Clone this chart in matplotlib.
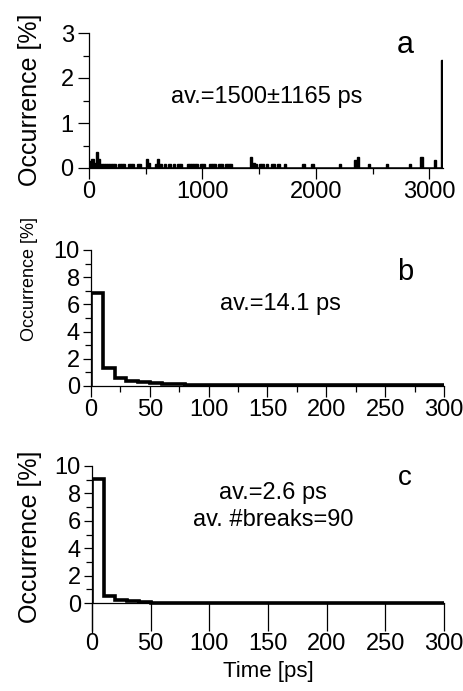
import matplotlib
matplotlib.use("Agg")
import matplotlib.pyplot as plt
from matplotlib.ticker import MultipleLocator
import numpy as np

plt.rcParams.update({"font.family": ["Liberation Sans", "DejaVu Sans"],
                     "axes.linewidth": 0.9, "xtick.major.width": 0.9,
                     "ytick.major.width": 0.9, "xtick.minor.width": 0.9,
                     "ytick.minor.width": 0.9})

# panel a: lifetimes, 20 ps bins (left edges of non-empty bins) -> occurrence [%]
A_BIN = 20
a_t = [0, 20, 40, 60, 80, 100, 120, 140, 160, 180,
       200, 220, 260, 280, 300, 340, 360, 380, 420, 440,
       500, 520, 580, 600, 620, 660, 700, 740, 780, 800,
       860, 880, 900, 920, 940, 980, 1000, 1060, 1080, 1100,
       1140, 1160, 1200, 1220, 1240, 1420, 1440, 1460, 1500, 1520,
       1560, 1600, 1620, 1660, 1720, 1880, 1960, 2200, 2340, 2360,
       2460, 2620, 2820, 2920, 3040, 3100]
a_occ = [0.15, 0.2, 0.12, 0.35, 0.2, 0.1, 0.08, 0.08, 0.08, 0.08,
         0.08, 0.08, 0.08, 0.08, 0.08, 0.08, 0.08, 0.08, 0.08, 0.08,
         0.2, 0.12, 0.08, 0.2, 0.1, 0.08, 0.08, 0.08, 0.08, 0.08,
         0.08, 0.08, 0.08, 0.08, 0.08, 0.08, 0.08, 0.08, 0.08, 0.08,
         0.08, 0.08, 0.08, 0.08, 0.08, 0.25, 0.12, 0.1, 0.1, 0.1,
         0.1, 0.08, 0.08, 0.08, 0.08, 0.1, 0.1, 0.1, 0.18, 0.25,
         0.1, 0.1, 0.1, 0.25, 0.18, 2.4]

# panels b, c: 10 ps bins from 0 to 300 ps
BIN = 10
b_occ = [6.85, 1.3, 0.62, 0.35, 0.28, 0.2, 0.15, 0.12, 0.1, 0.1,
         0.08, 0.08, 0.07, 0.07, 0.06, 0.06, 0.06, 0.06, 0.06, 0.06,
         0.06, 0.06, 0.06, 0.06, 0.07, 0.07, 0.08, 0.08, 0.08, 0.1]
c_occ = [9.05, 0.55, 0.25, 0.15, 0.1, 0.05, 0.04, 0.03, 0.03, 0.03,
         0.03, 0.03, 0.03, 0.03, 0.03, 0.03, 0.03, 0.03, 0.03, 0.03,
         0.03, 0.03, 0.03, 0.03, 0.04, 0.04, 0.05, 0.05, 0.05, 0.05]

W, H = 464, 691
fig = plt.figure(figsize=(W / 100, H / 100), dpi=100)

def px_axes(l, r, top, bot):
    return fig.add_axes([l / W, 1 - bot / H, (r - l) / W, (bot - top) / H])

def style(ax):
    ax.spines[["top", "right"]].set_visible(False)
    ax.tick_params(labelsize=17, direction="out")

def ftext(x, y, s, **kw):
    fig.text(x / W, 1 - y / H, s, ha="center", va="center", **kw)

LW = 2.6

# ---- a
ax = px_axes(89, 443.5, 33, 168)
ax.bar(a_t, a_occ, width=A_BIN, align="edge", color="black", edgecolor="black", lw=1.0)
ax.plot([0, 3115], [0, 0], color="black", lw=1.8, solid_capstyle="butt")
ax.set_xlim(0, 3125); ax.set_ylim(0, 3)
ax.xaxis.set_major_locator(MultipleLocator(1000)); ax.xaxis.set_minor_locator(MultipleLocator(500))
ax.yaxis.set_major_locator(MultipleLocator(1)); ax.yaxis.set_minor_locator(MultipleLocator(0.5))
style(ax)
ax.tick_params(axis="x", which="major", length=8, pad=1)
ax.tick_params(axis="x", which="minor", length=4)
ax.tick_params(axis="y", which="major", length=8, pad=3)
ax.tick_params(axis="y", which="minor", length=4)

# ---- b
ax = px_axes(91, 444, 250, 386)
ax.stairs(b_occ, np.arange(len(b_occ) + 1) * BIN, color="black", lw=LW)
ax.set_xlim(0, 300); ax.set_ylim(0, 10)
ax.xaxis.set_major_locator(MultipleLocator(50)); ax.xaxis.set_minor_locator(MultipleLocator(25))
ax.yaxis.set_major_locator(MultipleLocator(2)); ax.yaxis.set_minor_locator(MultipleLocator(1))
style(ax)
ax.tick_params(axis="x", which="major", length=8, pad=1)
ax.tick_params(axis="x", which="minor", length=4)
ax.tick_params(axis="y", which="major", length=6, pad=2)
ax.tick_params(axis="y", which="minor", length=4)

# ---- c
ax = px_axes(92, 444, 466, 632)
ax.stairs(c_occ, np.arange(len(c_occ) + 1) * BIN, color="black", lw=LW)
ax.set_xlim(0, 300); ax.set_ylim(-2.1, 10)
ax.spines["bottom"].set_position(("data", 0))
ax.xaxis.set_major_locator(MultipleLocator(50))
ax.set_yticks([0, 2, 4, 6, 8, 10])
ax.set_yticks([1, 3, 5, 7, 9], minor=True)
style(ax)
ax.tick_params(axis="x", which="major", length=20.5, pad=1)
ax.tick_params(axis="y", which="major", length=6, pad=2)
ax.tick_params(axis="y", which="minor", length=4)

# labels
ftext(30, 100, "Occurrence [%]", rotation=90, fontsize=18)
ftext(30, 279, "Occurrence [%]", rotation=90, fontsize=13)
ftext(30, 537, "Occurrence [%]", rotation=90, fontsize=18)
ftext(268, 672, "Time [ps]", fontsize=16)

ftext(267, 97, "av.=1500±1165 ps", fontsize=17)
ftext(280, 304, "av.=14.1 ps", fontsize=17)
ftext(273, 493, "av.=2.6 ps", fontsize=17)
ftext(273, 520, "av. #breaks=90", fontsize=17)

ftext(405, 45, "a", fontsize=22)
ftext(405, 272, "b", fontsize=21)
ftext(405, 478, "c", fontsize=20)

fig.savefig("out.png", dpi=100)
